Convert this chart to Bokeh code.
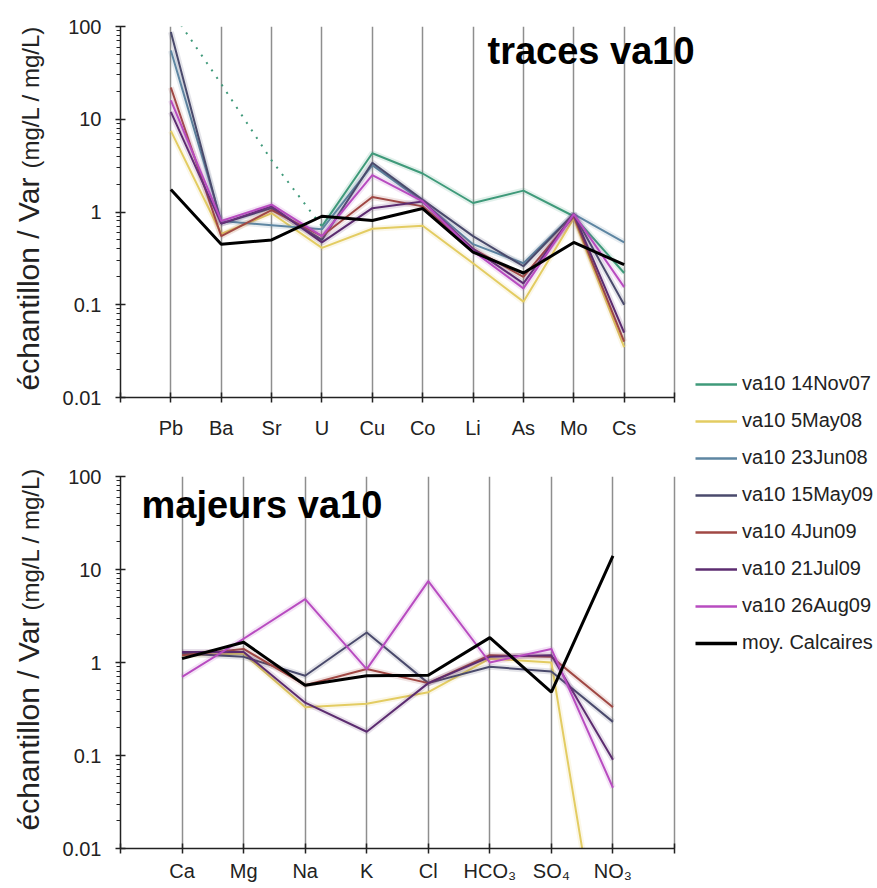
import math
from bokeh.plotting import figure
from bokeh.models import (Range1d, FixedTicker, Label, Legend, LegendItem,
                          CustomJSTickFormatter)
from bokeh.core.properties import value
from bokeh.layouts import row, column
from bokeh.embed import file_html
from bokeh.resources import INLINE

FONT = "Liberation Sans"

# ---------------- data ----------------
trace_elements = ["Pb", "Ba", "Sr", "U", "Cu", "Co", "Li", "As", "Mo", "Cs"]
major_ions = ["Ca", "Mg", "Na", "K", "Cl", "HCO₃", "SO₄", "NO₃"]

series_names = ["va10 14Nov07", "va10 5May08", "va10 23Jun08", "va10 15May09",
                "va10 4Jun09", "va10 21Jul09", "va10 26Aug09", "moy. Calcaires"]
series_colors = ["#3f9a7a", "#e3cc62", "#5e86a2", "#4a4a6c",
                 "#a04844", "#5c2c70", "#b84cc0", "#000000"]
series_widths = [2, 2, 2, 2, 2, 2, 2, 3]

# traces (Pb..Cs)
traces_14Nov07 = [150, 24, 3.6, 0.7, 4.3, 2.6, 1.25, 1.7, 0.9, 0.22]
traces_5May08 = [7.5, 0.58, 0.97, 0.41, 0.66, 0.71, 0.28, 0.108, 0.85, 0.035]
traces_23Jun08 = [55, 0.8, 0.72, 0.65, 3.2, 1.3, 0.45, 0.28, 0.95, 0.47]
traces_15May09 = [87, 0.75, 1.1, 0.5, 3.4, 1.35, 0.55, 0.26, 0.95, 0.1]
traces_4Jun09 = [22, 0.55, 1.05, 0.55, 1.45, 1.15, 0.4, 0.2, 0.9, 0.04]
traces_21Jul09 = [12, 0.75, 1.15, 0.47, 1.1, 1.3, 0.4, 0.17, 0.95, 0.05]
traces_26Aug09 = [16, 0.8, 1.2, 0.55, 2.5, 1.3, 0.38, 0.15, 0.95, 0.155]
traces_moy = [1.75, 0.45, 0.5, 0.9, 0.81, 1.09, 0.37, 0.22, 0.47, 0.27]

# majeurs (Ca..NO3)
majeurs_14Nov07 = None
majeurs_5May08 = [1.2, 1.25, 0.33, 0.36, 0.48, 1.1, 1.0, 0.0001]
majeurs_23Jun08 = None
majeurs_15May09 = [1.25, 1.15, 0.72, 2.1, 0.6, 0.9, 0.8, 0.23]
majeurs_4Jun09 = [1.2, 1.4, 0.57, 0.85, 0.6, 1.2, 1.15, 0.33]
majeurs_21Jul09 = [1.3, 1.3, 0.37, 0.18, 0.6, 1.15, 1.2, 0.09]
majeurs_26Aug09 = [0.7, 1.8, 4.8, 0.85, 7.5, 1.0, 1.4, 0.045]
majeurs_moy = [1.1, 1.65, 0.57, 0.72, 0.73, 1.85, 0.48, 14]

traces_series = [traces_14Nov07, traces_5May08, traces_23Jun08, traces_15May09,
                 traces_4Jun09, traces_21Jul09, traces_26Aug09, traces_moy]
majeurs_series = [majeurs_14Nov07, majeurs_5May08, majeurs_23Jun08, majeurs_15May09,
                  majeurs_4Jun09, majeurs_21Jul09, majeurs_26Aug09, majeurs_moy]

y_major = [0.01, 0.1, 1, 10, 100]
y_minor = [m * 10.0 ** e for e in range(-2, 2) for m in range(2, 10)]

LABEL_W = 48
TOP_H = 450
BOT_H = 434
TOTAL_H = TOP_H + BOT_H
AXIS_W = 554            # pixel length of the drawn x axis
EXTRA_R = 20            # free frame space right of the axis end (for the title)
PANEL_W = 120 - LABEL_W + AXIS_W + EXTRA_R


def make_panel(cats, series, height, b_top, b_bottom, standoff, title,
               title_xy, dotted_first=None):
    n = len(cats)
    x_end = (n + 1) * (AXIS_W + EXTRA_R) / AXIS_W
    p = figure(width=PANEL_W, height=height, x_range=Range1d(0, x_end),
               y_range=Range1d(0.01, 100), y_axis_type="log",
               output_backend="svg", toolbar_location=None,
               min_border_left=120 - LABEL_W, min_border_right=0,
               min_border_top=b_top, min_border_bottom=b_bottom)
    p.outline_line_color = None
    p.ygrid.visible = False
    p.xgrid.ticker = FixedTicker(ticks=list(range(1, n + 2)))
    p.xgrid.grid_line_color = "#8e8e8e"
    p.xgrid.grid_line_width = 1.5

    xa = p.xaxis[0]
    xa.bounds = (0, n + 1)
    xa.ticker = FixedTicker(ticks=list(range(0, n + 2)))
    overrides = {0: "", n + 1: ""}
    for i, c in enumerate(cats):
        overrides[i + 1] = c
    xa.major_label_overrides = overrides
    xa.major_tick_in = 5
    xa.major_tick_out = 5
    xa.minor_tick_out = 0
    xa.minor_tick_in = 0
    xa.axis_line_width = 1.5
    xa.axis_line_color = "#222222"
    xa.major_tick_line_color = "#222222"
    xa.major_tick_line_width = 1.5
    xa.major_label_text_font = FONT
    xa.major_label_text_font_size = "20px"
    xa.major_label_text_color = "#222222"
    xa.major_label_standoff = standoff

    ya = p.yaxis[0]
    ya.ticker = FixedTicker(ticks=y_major, minor_ticks=y_minor)
    ya.formatter = CustomJSTickFormatter(
        code="return tick >= 1 ? tick.toFixed(0) : tick.toString();")
    ya.major_tick_in = 5
    ya.major_tick_out = 5
    ya.minor_tick_in = 0
    ya.minor_tick_out = 4
    ya.axis_line_width = 1.5
    ya.axis_line_color = "#222222"
    ya.major_tick_line_color = "#222222"
    ya.minor_tick_line_color = "#222222"
    ya.major_tick_line_width = 1.5
    ya.major_label_text_font = FONT
    ya.major_label_text_font_size = "20px"
    ya.major_label_text_color = "#222222"
    ya.major_label_standoff = 14

    xs = list(range(1, n + 1))
    for k, vals in enumerate(series):
        if vals is None:
            continue
        col = series_colors[k]
        w = series_widths[k]
        j = dotted_first if (dotted_first is not None and k == 0) else 0
        if k != len(series) - 1:
            # soft halo as in the reference picture
            p.line(xs[j:], vals[j:], line_color=col, line_width=6, line_alpha=0.15)
        if j > 0:
            p.line(xs[:j + 1], vals[:j + 1], line_color=col, line_width=w,
                   line_dash="2 7")
        p.line(xs[j:], vals[j:], line_color=col, line_width=w)

    p.add_layout(Label(x=title_xy[0], y=title_xy[1], x_units="screen",
                       y_units="screen", text=title, text_font=FONT,
                       text_font_size="38px", text_font_style="bold",
                       text_color="black", text_baseline="middle"))
    return p


top = make_panel(trace_elements, traces_series, TOP_H, 26, 53, 14,
                 "traces va10", (367, 347), dotted_first=3)
bottom = make_panel(major_ions, majeurs_series, BOT_H, 26, 36, 6,
                    "majeurs va10", (21, 344))

# y-axis titles (rotated), in a narrow strip on the left
yl = figure(width=LABEL_W, height=TOTAL_H, x_range=Range1d(0, LABEL_W),
            y_range=Range1d(0, TOTAL_H), output_backend="svg",
            toolbar_location=None, min_border=0,
            x_axis_location=None, y_axis_location=None)
yl.outline_line_color = None
yl.grid.visible = False
yl.text(x=[27.8, 27.8], y=[TOTAL_H - 390, TOTAL_H - 830],
        text=["échantillon / Var", "échantillon / Var"], angle=math.pi / 2,
        text_font=value(FONT), text_font_size="30px", text_color="#222222",
        text_baseline="middle", text_align="left")
yl.text(x=[29.9, 29.9], y=[TOTAL_H - 168, TOTAL_H - 610],
        text=["(mg/L / mg/L)", "(mg/L / mg/L)"], angle=math.pi / 2,
        text_font=value(FONT), text_font_size="24px", text_color="#222222",
        text_baseline="middle", text_align="left")

# legend panel
LEG_W = 877 - LABEL_W - PANEL_W
lf = figure(width=LEG_W, height=TOTAL_H, x_range=Range1d(0, 1), y_range=Range1d(0, 1),
            output_backend="svg", toolbar_location=None, min_border=0,
            x_axis_location=None, y_axis_location=None)
lf.outline_line_color = None
lf.grid.visible = False
items = []
for k, name in enumerate(series_names):
    vals = traces_series[k]
    r = lf.line(list(range(1, len(vals) + 1)), vals, line_color=series_colors[k],
                line_width=series_widths[k] + 0.5, visible=False)
    items.append(LegendItem(label=name, renderers=[r]))
leg = Legend(items=items, location=(1, 230), border_line_color=None,
             background_fill_alpha=0, padding=0, margin=0, glyph_width=42,
             glyph_height=20, label_height=20, spacing=14, label_standoff=5,
             label_text_font=FONT, label_text_font_size="20px",
             label_text_color="#222222")
lf.add_layout(leg)

layout = row(yl, column(top, bottom), lf)
open("out.html", "w").write(file_html(layout, INLINE))
